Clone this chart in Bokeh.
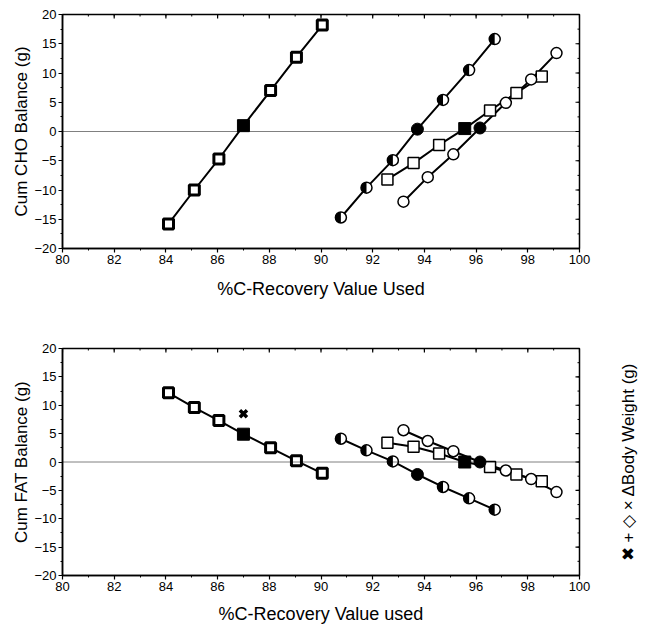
import math
from bokeh.plotting import figure
from bokeh.layouts import column, row
from bokeh.models import Span, FixedTicker, Range1d
from bokeh.embed import file_html
from bokeh.resources import INLINE

# ---------------- data ----------------
# Top panel: cumulative CHO balance (g) vs %C-recovery value used
cho_a_x = [84.1, 85.1, 86.05, 87.0, 88.05, 89.05, 90.05]
cho_a_y = [-15.8, -10.0, -4.7, 1.0, 7.0, 12.7, 18.2]
cho_b_x = [90.77, 91.76, 92.78, 93.73, 94.72, 95.73, 96.72]
cho_b_y = [-14.7, -9.6, -4.9, 0.4, 5.4, 10.5, 15.8]
cho_c_x = [92.57, 93.58, 94.57, 95.56, 96.54, 97.56, 98.54]
cho_c_y = [-8.2, -5.4, -2.3, 0.5, 3.6, 6.6, 9.4]
cho_d_x = [93.19, 94.13, 95.12, 96.15, 97.15, 98.13, 99.11]
cho_d_y = [-12.0, -7.8, -3.9, 0.6, 4.9, 8.9, 13.4]

# Bottom panel: cumulative FAT balance (g)
fat_a_x = [84.1, 85.1, 86.05, 87.0, 88.05, 89.05, 90.05]
fat_a_y = [12.2, 9.6, 7.3, 4.9, 2.5, 0.2, -2.0]
fat_b_x = [90.77, 91.76, 92.78, 93.73, 94.72, 95.73, 96.72]
fat_b_y = [4.1, 2.05, 0.1, -2.2, -4.4, -6.4, -8.4]
fat_c_x = [92.57, 93.58, 94.57, 95.56, 96.54, 97.56, 98.54]
fat_c_y = [3.4, 2.7, 1.5, 0.0, -0.9, -2.2, -3.4]
fat_d_x = [93.19, 94.13, 95.12, 96.15, 97.15, 98.13, 99.11]
fat_d_y = [5.6, 3.7, 1.9, 0.0, -1.5, -3.0, -5.3]
filled_idx = 3  # the value actually used (filled symbol)

body_wt_x = [87.0]
body_wt_y = [8.5]

x_ticks = [80, 82, 84, 86, 88, 90, 92, 94, 96, 98, 100]
x_minor = list(range(80, 101))
y_ticks = [-20, -15, -10, -5, 0, 5, 10, 15, 20]
y_minor = [v * 2.5 for v in range(-8, 9)]

FONT = "Liberation Sans"


def style_axis(ax):
    ax.axis_line_color = "black"
    ax.axis_line_width = 1.5
    ax.major_tick_line_color = "black"
    ax.major_tick_line_width = 1.2
    ax.minor_tick_line_color = "black"
    ax.major_tick_in = 0
    ax.major_tick_out = 4
    ax.minor_tick_in = 0
    ax.minor_tick_out = 2
    ax.major_label_text_font = FONT
    ax.major_label_text_font_size = "13px"
    ax.major_label_text_color = "black"
    ax.axis_label_text_font = FONT
    ax.axis_label_text_font_style = "normal"
    ax.axis_label_text_color = "black"


def make_panel(ylabel, xlabel, data, frame_h, top_border, bottom_border, right_border,
               xlabel_standoff, extra_x=None, extra_y=None):
    p = figure(frame_width=517, frame_height=frame_h, output_backend="svg",
               toolbar_location=None, x_range=Range1d(80, 100), y_range=Range1d(-20, 20),
               min_border_left=62, min_border_right=right_border, min_border_top=top_border,
               min_border_bottom=bottom_border, background_fill_color="white",
               border_fill_color="white")
    p.grid.visible = False
    p.outline_line_color = "black"
    p.outline_line_width = 1.5
    p.xaxis.ticker = FixedTicker(ticks=x_ticks, minor_ticks=x_minor)
    p.yaxis.ticker = FixedTicker(ticks=y_ticks, minor_ticks=y_minor)
    style_axis(p.xaxis[0])
    style_axis(p.yaxis[0])
    p.xaxis.axis_label = xlabel
    p.yaxis.axis_label = ylabel
    p.xaxis.axis_label_text_font_size = "18px"
    p.yaxis.axis_label_text_font_size = "17px"
    p.xaxis.major_label_standoff = 2
    p.xaxis.axis_label_standoff = xlabel_standoff
    p.yaxis.major_label_standoff = 2
    p.yaxis.axis_label_standoff = 0

    # ticks on the top and right edges of the frame
    p.scatter(x_ticks, [20] * len(x_ticks), marker="dash", angle=math.pi / 2, size=8,
              line_color="black", line_width=1.2)
    p.scatter(x_minor, [20] * len(x_minor), marker="dash", angle=math.pi / 2, size=4,
              line_color="black", line_width=1)
    p.scatter([100] * len(y_ticks), y_ticks, marker="dash", size=8,
              line_color="black", line_width=1.2)
    p.scatter([100] * len(y_minor), y_minor, marker="dash", size=4,
              line_color="black", line_width=1)

    p.add_layout(Span(location=0, dimension="width", line_color="black",
                      line_width=1, line_dash="1 1"))

    (ax_, ay_), (bx_, by_), (cx_, cy_), (dx_, dy_) = data
    for xs, ys in data:
        p.line(xs, ys, line_color="black", line_width=2)

    def split(xs, ys):
        ox = [v for i, v in enumerate(xs) if i != filled_idx]
        oy = [v for i, v in enumerate(ys) if i != filled_idx]
        return ox, oy, [xs[filled_idx]], [ys[filled_idx]]

    # series A: thick-bordered square with small white centre
    ox, oy, fx, fy = split(ax_, ay_)
    p.scatter(ox, oy, marker="square", size=10, fill_color="white", line_color="black", line_width=3)
    p.scatter(fx, fy, marker="square", size=12, fill_color="black", line_color="black")

    # series B: half-filled circles
    ox, oy, fx, fy = split(bx_, by_)
    p.scatter(ox, oy, marker="circle", size=11, fill_color="white", line_color="black", line_width=1.5)
    p.wedge(ox, oy, radius=5.5, radius_units="screen", start_angle=math.pi / 2,
            end_angle=3 * math.pi / 2, fill_color="black", line_color=None)
    p.scatter(fx, fy, marker="circle", size=12, fill_color="black", line_color="black")

    # series C: open squares
    ox, oy, fx, fy = split(cx_, cy_)
    p.scatter(ox, oy, marker="square", size=11, fill_color="white", line_color="black", line_width=1.5)
    p.scatter(fx, fy, marker="square", size=12, fill_color="black", line_color="black")

    # series D: open circles
    ox, oy, fx, fy = split(dx_, dy_)
    p.scatter(ox, oy, marker="circle", size=11, fill_color="white", line_color="black", line_width=1.5)
    p.scatter(fx, fy, marker="circle", size=12, fill_color="black", line_color="black")

    if extra_x is not None:
        p.scatter(extra_x, extra_y, marker="x", size=10, line_color="black", line_width=3.5)
    return p


top = make_panel("Cum CHO Balance (g)", "%C-Recovery Value Used",
                 [(cho_a_x, cho_a_y), (cho_b_x, cho_b_y), (cho_c_x, cho_c_y), (cho_d_x, cho_d_y)],
                 frame_h=234, top_border=14, bottom_border=52, right_border=53, xlabel_standoff=12)
bottom = make_panel("Cum FAT Balance (g)", "%C-Recovery Value used",
                    [(fat_a_x, fat_a_y), (fat_b_x, fat_b_y), (fat_c_x, fat_c_y), (fat_d_x, fat_d_y)],
                    frame_h=227, top_border=47, bottom_border=40, right_border=20,
                    xlabel_standoff=10, extra_x=body_wt_x, extra_y=body_wt_y)

# narrow companion figure that carries the right-hand label, reading bottom to top
side = figure(frame_width=1, frame_height=227, output_backend="svg", toolbar_location=None,
              x_range=Range1d(0, 1), y_range=Range1d(-20, 20), x_axis_location=None,
              min_border_left=38, min_border_right=0, min_border_top=39, min_border_bottom=48,
              background_fill_color="white", border_fill_color="white")
side.grid.visible = False
side.outline_line_color = None
side.yaxis.ticker = FixedTicker(ticks=[])
side.yaxis.axis_line_color = None
side.yaxis.major_tick_line_color = None
side.yaxis.minor_tick_line_color = None
side.yaxis.axis_label = "\u2716 + \u25c7 \u00d7 \u0394Body Weight (g)"
side.yaxis.axis_label_text_font = FONT
side.yaxis.axis_label_text_font_size = "17px"
side.yaxis.axis_label_text_font_style = "normal"
side.yaxis.axis_label_text_color = "black"
side.yaxis.axis_label_standoff = 0

layout = column(top, row(bottom, side, spacing=0), spacing=0)
open("out.html", "w").write(file_html(layout, INLINE))
